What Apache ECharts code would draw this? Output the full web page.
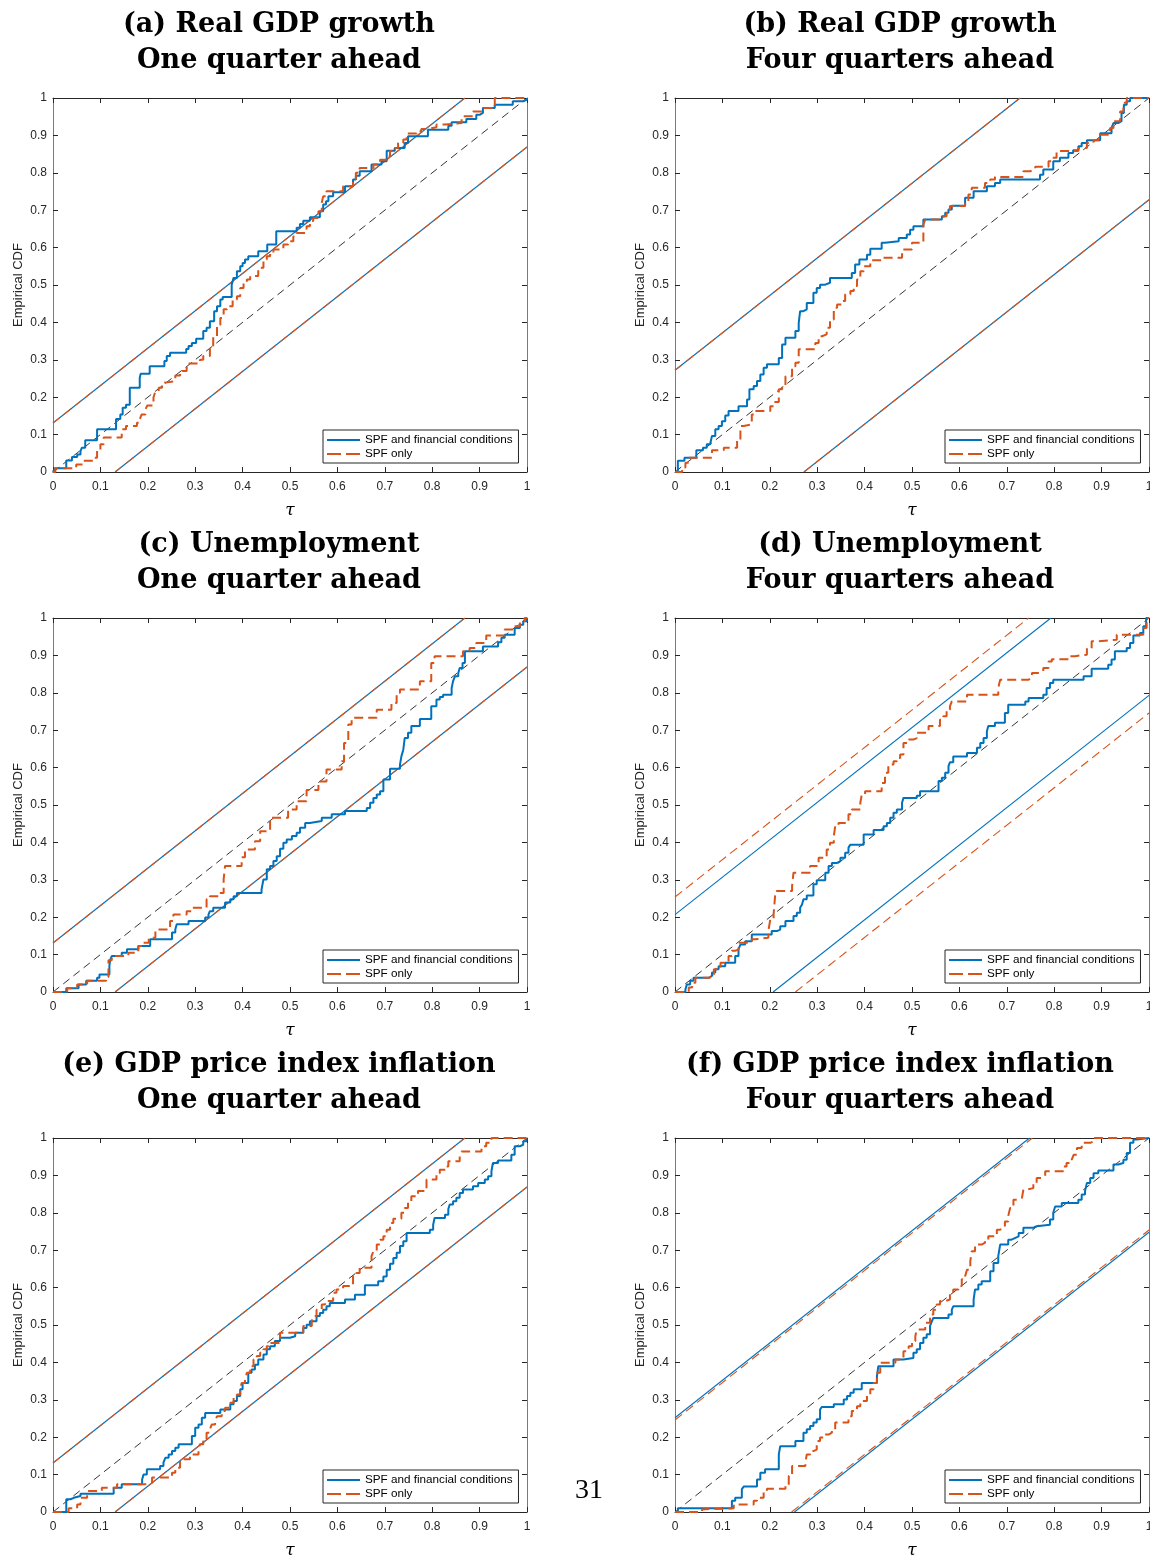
<!DOCTYPE html>
<html><head><meta charset="utf-8">
<script src="https://cdn.jsdelivr.net/npm/echarts@6/dist/echarts.min.js"></script>
<style>html,body{margin:0;padding:0;background:#fff}#chart{width:1150px;height:1556px}</style>
</head><body><div id="chart"></div>
<script>
// ---------------- data ----------------
const panelTitles = [
  ['(a) Real GDP growth', 'One quarter ahead'],
  ['(b) Real GDP growth', 'Four quarters ahead'],
  ['(c) Unemployment', 'One quarter ahead'],
  ['(d) Unemployment', 'Four quarters ahead'],
  ['(e) GDP price index inflation', 'One quarter ahead'],
  ['(f) GDP price index inflation', 'Four quarters ahead']
];
const seriesNames = ['SPF and financial conditions', 'SPF only'];
const yAxisName = 'Empirical CDF';
const xAxisName = 'τ';
const pageNumber = '31';
// critical values of the bands (y = x ± c)
const critBlue = [0.131, 0.272, 0.131, 0.207, 0.131, 0.252];
const critOrange = [0.131, 0.272, 0.131, 0.254, 0.131, 0.246];
const diagonal = [[0, 0], [1, 1]];

const gdpQ1Blue = [[0,0],[0.004,0.01],[0.028,0.031],[0.040,0.04],[0.051,0.047],[0.058,0.056],[0.061,0.065],[0.068,0.085],[0.093,0.114],[0.133,0.142],[0.142,0.154],[0.147,0.172],[0.154,0.18],[0.162,0.225],[0.183,0.252],[0.185,0.263],[0.204,0.283],[0.235,0.297],[0.240,0.31],[0.247,0.319],[0.281,0.329],[0.286,0.337],[0.293,0.345],[0.302,0.356],[0.317,0.377],[0.324,0.386],[0.331,0.403],[0.340,0.43],[0.346,0.443],[0.353,0.461],[0.358,0.468],[0.377,0.501],[0.381,0.519],[0.388,0.537],[0.395,0.55],[0.400,0.559],[0.405,0.568],[0.412,0.577],[0.433,0.59],[0.452,0.608],[0.471,0.644],[0.514,0.653],[0.521,0.663],[0.528,0.672],[0.542,0.681],[0.563,0.697],[0.570,0.715],[0.576,0.724],[0.581,0.737],[0.591,0.748],[0.616,0.764],[0.633,0.782],[0.639,0.792],[0.647,0.804],[0.672,0.822],[0.693,0.831],[0.704,0.859],[0.721,0.866],[0.742,0.88],[0.749,0.898],[0.791,0.915],[0.834,0.926],[0.841,0.935],[0.872,0.944],[0.893,0.955],[0.900,0.96],[0.907,0.973],[0.932,0.982],[0.970,0.991],[0.992,0.996],[1,1]];
const gdpQ1Orange = [[0,0],[0.005,0.01],[0.049,0.02],[0.063,0.03],[0.086,0.038],[0.093,0.056],[0.100,0.074],[0.107,0.092],[0.145,0.114],[0.154,0.123],[0.177,0.132],[0.183,0.141],[0.187,0.154],[0.195,0.167],[0.199,0.178],[0.212,0.199],[0.216,0.216],[0.223,0.225],[0.230,0.239],[0.237,0.243],[0.258,0.258],[0.268,0.27],[0.282,0.29],[0.310,0.30],[0.317,0.31],[0.331,0.33],[0.338,0.363],[0.346,0.394],[0.353,0.412],[0.360,0.435],[0.367,0.443],[0.379,0.461],[0.388,0.47],[0.395,0.492],[0.402,0.506],[0.409,0.515],[0.416,0.524],[0.433,0.546],[0.444,0.568],[0.451,0.577],[0.458,0.586],[0.465,0.595],[0.486,0.608],[0.496,0.617],[0.507,0.63],[0.514,0.639],[0.535,0.657],[0.542,0.671],[0.549,0.679],[0.560,0.697],[0.567,0.72],[0.570,0.737],[0.577,0.751],[0.612,0.764],[0.633,0.782],[0.639,0.8],[0.647,0.813],[0.676,0.822],[0.690,0.835],[0.704,0.844],[0.711,0.858],[0.718,0.866],[0.728,0.88],[0.739,0.889],[0.746,0.905],[0.767,0.911],[0.777,0.917],[0.791,0.922],[0.809,0.929],[0.827,0.933],[0.862,0.951],[0.886,0.964],[0.907,0.973],[0.932,1],[1,1]];
const gdpQ4Blue = [[0,0],[0.006,0.03],[0.020,0.038],[0.045,0.058],[0.059,0.065],[0.067,0.074],[0.074,0.078],[0.078,0.096],[0.085,0.114],[0.092,0.123],[0.099,0.136],[0.106,0.151],[0.113,0.163],[0.134,0.176],[0.152,0.194],[0.157,0.221],[0.166,0.23],[0.173,0.243],[0.180,0.261],[0.187,0.279],[0.194,0.288],[0.219,0.305],[0.226,0.341],[0.233,0.359],[0.254,0.377],[0.261,0.399],[0.264,0.43],[0.271,0.435],[0.278,0.452],[0.292,0.479],[0.299,0.492],[0.306,0.501],[0.317,0.506],[0.327,0.519],[0.373,0.532],[0.380,0.555],[0.389,0.568],[0.405,0.581],[0.412,0.597],[0.436,0.613],[0.443,0.617],[0.472,0.626],[0.489,0.635],[0.496,0.648],[0.503,0.657],[0.524,0.675],[0.563,0.684],[0.570,0.693],[0.577,0.702],[0.584,0.712],[0.612,0.733],[0.630,0.751],[0.658,0.764],[0.675,0.773],[0.686,0.782],[0.770,0.795],[0.777,0.809],[0.798,0.831],[0.812,0.84],[0.830,0.853],[0.840,0.86],[0.851,0.871],[0.858,0.88],[0.869,0.887],[0.897,0.906],[0.921,0.92],[0.925,0.933],[0.935,0.938],[0.942,0.96],[0.947,0.982],[0.953,0.991],[0.960,1],[1,1]];
const gdpQ4Orange = [[0,0],[0.015,0.012],[0.022,0.025],[0.029,0.038],[0.078,0.058],[0.103,0.065],[0.131,0.087],[0.138,0.123],[0.145,0.127],[0.162,0.154],[0.169,0.163],[0.201,0.176],[0.208,0.187],[0.219,0.221],[0.226,0.23],[0.233,0.256],[0.247,0.283],[0.254,0.292],[0.261,0.328],[0.296,0.345],[0.303,0.363],[0.310,0.368],[0.320,0.386],[0.327,0.408],[0.335,0.439],[0.342,0.448],[0.352,0.457],[0.359,0.475],[0.370,0.484],[0.377,0.497],[0.384,0.515],[0.391,0.537],[0.398,0.55],[0.412,0.566],[0.440,0.573],[0.479,0.595],[0.500,0.613],[0.524,0.662],[0.528,0.675],[0.566,0.684],[0.573,0.697],[0.580,0.711],[0.612,0.721],[0.619,0.742],[0.626,0.76],[0.654,0.773],[0.665,0.782],[0.675,0.789],[0.735,0.804],[0.749,0.809],[0.760,0.816],[0.788,0.831],[0.795,0.84],[0.805,0.858],[0.851,0.866],[0.869,0.88],[0.883,0.887],[0.893,0.902],[0.918,0.92],[0.925,0.938],[0.939,0.964],[0.946,0.987],[0.953,1],[1,1]];
const unempQ1Blue = [[0,0],[0.028,0.01],[0.054,0.02],[0.070,0.03],[0.093,0.038],[0.098,0.047],[0.119,0.071],[0.121,0.087],[0.124,0.096],[0.145,0.105],[0.156,0.114],[0.180,0.123],[0.205,0.141],[0.251,0.159],[0.258,0.167],[0.261,0.181],[0.286,0.19],[0.321,0.199],[0.328,0.207],[0.331,0.216],[0.338,0.225],[0.363,0.239],[0.374,0.248],[0.381,0.256],[0.388,0.265],[0.440,0.274],[0.444,0.301],[0.451,0.328],[0.458,0.337],[0.465,0.35],[0.472,0.363],[0.479,0.383],[0.486,0.399],[0.493,0.408],[0.504,0.417],[0.514,0.426],[0.521,0.439],[0.532,0.452],[0.542,0.457],[0.567,0.466],[0.588,0.475],[0.616,0.484],[0.662,0.492],[0.669,0.506],[0.676,0.519],[0.683,0.528],[0.690,0.537],[0.697,0.568],[0.711,0.597],[0.732,0.608],[0.735,0.63],[0.739,0.648],[0.742,0.679],[0.749,0.693],[0.756,0.711],[0.774,0.73],[0.798,0.764],[0.809,0.782],[0.816,0.789],[0.823,0.795],[0.841,0.813],[0.844,0.831],[0.848,0.844],[0.855,0.853],[0.858,0.866],[0.864,0.88],[0.869,0.911],[0.907,0.924],[0.939,0.935],[0.946,0.947],[0.953,0.955],[0.974,0.973],[0.985,0.982],[0.992,0.991],[1,1]];
const unempQ1Orange = [[0,0],[0.030,0.01],[0.051,0.02],[0.072,0.03],[0.112,0.04],[0.117,0.085],[0.124,0.096],[0.159,0.105],[0.180,0.123],[0.188,0.132],[0.202,0.145],[0.216,0.167],[0.247,0.19],[0.254,0.207],[0.282,0.216],[0.293,0.225],[0.324,0.248],[0.331,0.256],[0.349,0.265],[0.360,0.301],[0.363,0.337],[0.398,0.36],[0.405,0.381],[0.426,0.403],[0.437,0.43],[0.458,0.466],[0.496,0.488],[0.514,0.51],[0.535,0.54],[0.560,0.563],[0.577,0.595],[0.609,0.617],[0.614,0.666],[0.623,0.715],[0.630,0.733],[0.683,0.755],[0.714,0.773],[0.725,0.80],[0.732,0.809],[0.774,0.831],[0.798,0.88],[0.805,0.898],[0.865,0.911],[0.879,0.92],[0.893,0.933],[0.914,0.953],[0.953,0.969],[0.971,0.978],[0.985,0.991],[0.995,1],[1,1]];
const unempQ4Blue = [[0,0],[0.022,0.007],[0.025,0.02],[0.032,0.03],[0.039,0.038],[0.071,0.043],[0.078,0.052],[0.085,0.061],[0.092,0.069],[0.106,0.078],[0.127,0.096],[0.134,0.114],[0.138,0.127],[0.148,0.136],[0.162,0.154],[0.204,0.163],[0.215,0.167],[0.222,0.176],[0.233,0.19],[0.250,0.203],[0.257,0.212],[0.264,0.225],[0.268,0.234],[0.271,0.248],[0.278,0.258],[0.292,0.288],[0.299,0.299],[0.317,0.319],[0.324,0.337],[0.331,0.345],[0.342,0.35],[0.349,0.359],[0.359,0.372],[0.366,0.386],[0.370,0.394],[0.398,0.421],[0.419,0.433],[0.440,0.443],[0.447,0.452],[0.454,0.466],[0.461,0.479],[0.468,0.488],[0.479,0.506],[0.482,0.519],[0.510,0.525],[0.517,0.537],[0.556,0.564],[0.563,0.573],[0.570,0.586],[0.577,0.604],[0.580,0.614],[0.587,0.63],[0.616,0.639],[0.637,0.653],[0.644,0.666],[0.651,0.679],[0.658,0.697],[0.661,0.711],[0.675,0.72],[0.696,0.746],[0.703,0.768],[0.739,0.777],[0.746,0.786],[0.777,0.795],[0.784,0.813],[0.791,0.826],[0.798,0.835],[0.862,0.844],[0.879,0.864],[0.914,0.875],[0.921,0.889],[0.928,0.911],[0.953,0.92],[0.960,0.933],[0.967,0.953],[0.981,0.96],[0.988,0.978],[0.994,1],[1,1]];
const unempQ4Orange = [[0,0],[0.029,0.012],[0.036,0.025],[0.043,0.038],[0.074,0.047],[0.082,0.061],[0.096,0.078],[0.113,0.096],[0.120,0.11],[0.127,0.114],[0.134,0.132],[0.162,0.141],[0.169,0.145],[0.197,0.163],[0.201,0.194],[0.208,0.207],[0.212,0.27],[0.247,0.283],[0.250,0.319],[0.285,0.337],[0.303,0.359],[0.320,0.381],[0.327,0.399],[0.335,0.417],[0.338,0.443],[0.345,0.452],[0.366,0.475],[0.373,0.488],[0.391,0.506],[0.394,0.528],[0.401,0.537],[0.436,0.559],[0.443,0.586],[0.450,0.608],[0.461,0.617],[0.468,0.626],[0.475,0.635],[0.482,0.666],[0.493,0.675],[0.503,0.679],[0.510,0.693],[0.535,0.711],[0.559,0.728],[0.566,0.737],[0.573,0.755],[0.580,0.764],[0.584,0.777],[0.616,0.795],[0.682,0.813],[0.686,0.835],[0.746,0.84],[0.753,0.853],[0.770,0.858],[0.777,0.866],[0.788,0.884],[0.795,0.89],[0.833,0.898],[0.844,0.902],[0.869,0.92],[0.879,0.938],[0.893,0.942],[0.932,0.955],[0.988,0.973],[0.995,1],[1,1]];
const inflQ1Blue = [[0,0],[0.028,0.034],[0.037,0.038],[0.044,0.043],[0.058,0.049],[0.128,0.065],[0.145,0.074],[0.188,0.087],[0.191,0.1],[0.198,0.114],[0.226,0.123],[0.233,0.132],[0.237,0.145],[0.244,0.154],[0.251,0.163],[0.258,0.172],[0.265,0.181],[0.293,0.203],[0.300,0.225],[0.307,0.234],[0.314,0.252],[0.321,0.265],[0.353,0.274],[0.374,0.288],[0.381,0.297],[0.388,0.31],[0.395,0.328],[0.400,0.345],[0.412,0.372],[0.419,0.381],[0.426,0.394],[0.433,0.408],[0.444,0.421],[0.451,0.435],[0.458,0.443],[0.468,0.457],[0.479,0.466],[0.500,0.47],[0.511,0.479],[0.528,0.492],[0.535,0.501],[0.542,0.51],[0.556,0.524],[0.563,0.532],[0.570,0.541],[0.577,0.55],[0.584,0.559],[0.616,0.568],[0.637,0.581],[0.658,0.606],[0.686,0.617],[0.697,0.63],[0.704,0.648],[0.711,0.664],[0.718,0.679],[0.725,0.693],[0.732,0.711],[0.739,0.724],[0.746,0.746],[0.795,0.755],[0.802,0.768],[0.805,0.786],[0.827,0.795],[0.834,0.81],[0.837,0.822],[0.844,0.831],[0.851,0.84],[0.858,0.853],[0.865,0.862],[0.886,0.871],[0.897,0.88],[0.911,0.889],[0.918,0.898],[0.925,0.911],[0.928,0.933],[0.939,0.94],[0.967,0.955],[0.974,0.978],[0.985,0.982],[0.992,0.991],[0.999,1],[1,1]];
const inflQ1Orange = [[0,0],[0.033,0.01],[0.051,0.02],[0.058,0.038],[0.072,0.056],[0.103,0.065],[0.135,0.074],[0.198,0.078],[0.209,0.092],[0.251,0.105],[0.258,0.118],[0.268,0.141],[0.289,0.154],[0.307,0.167],[0.310,0.181],[0.317,0.19],[0.324,0.212],[0.331,0.221],[0.335,0.234],[0.342,0.243],[0.346,0.256],[0.356,0.27],[0.363,0.279],[0.374,0.292],[0.381,0.305],[0.388,0.314],[0.395,0.328],[0.398,0.345],[0.405,0.354],[0.409,0.372],[0.416,0.39],[0.423,0.408],[0.430,0.417],[0.437,0.426],[0.444,0.435],[0.451,0.443],[0.458,0.452],[0.479,0.479],[0.528,0.497],[0.546,0.51],[0.549,0.524],[0.556,0.541],[0.567,0.555],[0.574,0.564],[0.591,0.586],[0.598,0.595],[0.612,0.604],[0.633,0.63],[0.640,0.639],[0.647,0.653],[0.672,0.684],[0.676,0.697],[0.683,0.715],[0.690,0.728],[0.697,0.737],[0.704,0.755],[0.711,0.773],[0.718,0.784],[0.735,0.8],[0.742,0.813],[0.749,0.831],[0.756,0.844],[0.770,0.858],[0.788,0.889],[0.809,0.906],[0.816,0.915],[0.827,0.924],[0.834,0.938],[0.858,0.955],[0.862,0.964],[0.904,0.978],[0.914,0.987],[0.925,1],[1,1]];
const inflQ4Blue = [[0,0],[0.006,0.01],[0.120,0.03],[0.127,0.038],[0.141,0.061],[0.145,0.068],[0.173,0.087],[0.180,0.105],[0.190,0.114],[0.219,0.154],[0.222,0.176],[0.254,0.19],[0.271,0.212],[0.278,0.221],[0.285,0.23],[0.292,0.239],[0.299,0.248],[0.306,0.274],[0.310,0.281],[0.335,0.288],[0.356,0.301],[0.363,0.31],[0.370,0.319],[0.377,0.328],[0.394,0.345],[0.426,0.363],[0.429,0.39],[0.461,0.408],[0.482,0.412],[0.503,0.426],[0.510,0.435],[0.517,0.452],[0.524,0.466],[0.531,0.475],[0.538,0.497],[0.542,0.51],[0.545,0.519],[0.577,0.528],[0.584,0.541],[0.587,0.55],[0.630,0.568],[0.633,0.595],[0.640,0.608],[0.647,0.617],[0.665,0.644],[0.672,0.666],[0.682,0.684],[0.686,0.715],[0.703,0.728],[0.710,0.733],[0.718,0.737],[0.725,0.746],[0.735,0.76],[0.756,0.764],[0.763,0.768],[0.791,0.782],[0.798,0.8],[0.802,0.817],[0.816,0.826],[0.851,0.835],[0.858,0.849],[0.865,0.858],[0.869,0.88],[0.876,0.893],[0.883,0.906],[0.893,0.913],[0.925,0.929],[0.935,0.933],[0.946,0.942],[0.953,0.96],[0.960,0.987],[0.967,0.996],[0.974,1],[1,1]];
const inflQ4Orange = [[0,0],[0.057,0.007],[0.060,0.01],[0.124,0.02],[0.166,0.03],[0.173,0.038],[0.187,0.056],[0.194,0.062],[0.233,0.069],[0.240,0.096],[0.247,0.123],[0.275,0.132],[0.278,0.154],[0.285,0.163],[0.292,0.167],[0.299,0.19],[0.306,0.199],[0.313,0.207],[0.324,0.212],[0.331,0.221],[0.338,0.239],[0.366,0.256],[0.373,0.27],[0.384,0.283],[0.391,0.297],[0.405,0.314],[0.412,0.328],[0.419,0.345],[0.426,0.372],[0.433,0.399],[0.465,0.408],[0.482,0.43],[0.493,0.443],[0.500,0.457],[0.507,0.47],[0.510,0.488],[0.528,0.506],[0.538,0.528],[0.545,0.541],[0.552,0.555],[0.559,0.564],[0.570,0.568],[0.580,0.581],[0.587,0.595],[0.598,0.604],[0.605,0.622],[0.612,0.63],[0.616,0.648],[0.623,0.671],[0.626,0.697],[0.633,0.715],[0.647,0.72],[0.654,0.728],[0.661,0.737],[0.679,0.755],[0.686,0.76],[0.696,0.777],[0.703,0.791],[0.707,0.813],[0.714,0.835],[0.725,0.84],[0.732,0.844],[0.735,0.862],[0.742,0.866],[0.756,0.88],[0.763,0.893],[0.774,0.898],[0.781,0.911],[0.819,0.924],[0.826,0.933],[0.837,0.942],[0.841,0.955],[0.848,0.973],[0.858,0.987],[0.876,0.991],[0.883,1],[1,1]];

const blueSeries = [gdpQ1Blue, gdpQ4Blue, unempQ1Blue, unempQ4Blue, inflQ1Blue, inflQ4Blue];
const orangeSeries = [gdpQ1Orange, gdpQ4Orange, unempQ1Orange, unempQ4Orange, inflQ1Orange, inflQ4Orange];

// ---------------- layout / style ----------------
const BLUE = '#0072BD', ORANGE = '#D95319', AX = '#262626', AXV = '#7a7a7a';
const gridLeft = [53, 675], gridTop = [98, 618, 1138], gridW = 474, gridH = 374;
const titleCx = [279, 900], titleTop = [7, 527, 1047];
const legendLeft = [323, 945], legendTop = [430, 950, 1470];

const chart = echarts.init(document.getElementById('chart'), null, {renderer: 'canvas'});
const grids = [], xAxes = [], yAxes = [], series = [], titles = [], legends = [];

function upperBand(c) { return [[0, c], [1 - c, 1]]; }
function lowerBand(c) { return [[c, 0], [1, 1 - c]]; }
const tickFmt = v => String(Math.round(v * 10) / 10);

for (let i = 0; i < 6; i++) {
  const col = i % 2, row = Math.floor(i / 2);
  grids.push({left: gridLeft[col], top: gridTop[row], width: gridW, height: gridH,
    containLabel: false, outerBoundsMode: 'none', show: false});
  const baseX = {gridIndex: i, type: 'value', min: 0, max: 1, interval: 0.1,
    splitLine: {show: false},
    axisTick: {show: true, inside: true, length: 5, lineStyle: {color: AX, width: 1}},
    axisLine: {show: true, onZero: false, lineStyle: {color: AX, width: 1}}};
  xAxes.push(Object.assign({}, baseX, {position: 'bottom',
    axisLabel: {show: true, margin: 9, color: AX, fontSize: 12, fontFamily: 'Liberation Sans',
      formatter: tickFmt, showMinLabel: true, showMaxLabel: true, hideOverlap: false},
    name: xAxisName, nameLocation: 'middle', nameGap: 30,
    nameTextStyle: {fontFamily: 'DejaVu Serif', fontStyle: 'italic', fontSize: 17, color: '#000'}}));
  xAxes.push(Object.assign({}, baseX, {position: 'top', axisLabel: {show: false}}));
  const baseY = {gridIndex: i, type: 'value', min: 0, max: 1, interval: 0.1,
    splitLine: {show: false},
    axisTick: {show: true, inside: true, length: 5, lineStyle: {color: AX, width: 1}},
    axisLine: {show: true, onZero: false, lineStyle: {color: AXV, width: 1}}};
  yAxes.push(Object.assign({}, baseY, {position: 'left',
    axisLabel: {show: true, margin: 6, color: AX, fontSize: 12, fontFamily: 'Liberation Sans',
      formatter: tickFmt, showMinLabel: true, showMaxLabel: true, hideOverlap: false},
    name: yAxisName, nameLocation: 'middle', nameGap: 28, nameRotate: 90,
    nameTextStyle: {fontFamily: 'Liberation Sans', fontSize: 13, color: AX}}));
  yAxes.push(Object.assign({}, baseY, {position: 'right', axisLabel: {show: false}}));

  const xi = 2 * i, yi = 2 * i;
  const common = {type: 'line', xAxisIndex: xi, yAxisIndex: yi, symbol: 'none', showSymbol: false,
    silent: true, animation: false, clip: true};
  series.push(Object.assign({}, common, {name: 'diag', data: diagonal, z: 2,
    lineStyle: {color: '#000', width: 0.8, type: [8, 5]}}));
  series.push(Object.assign({}, common, {name: 'bandB', data: upperBand(critBlue[i]), z: 3,
    lineStyle: {color: BLUE, width: 1.1}}));
  series.push(Object.assign({}, common, {name: 'bandB', data: lowerBand(critBlue[i]), z: 3,
    lineStyle: {color: BLUE, width: 1.1}}));
  series.push(Object.assign({}, common, {name: 'bandO', data: upperBand(critOrange[i]), z: 4,
    lineStyle: {color: ORANGE, width: 1.1, type: [9, 5]}}));
  series.push(Object.assign({}, common, {name: 'bandO', data: lowerBand(critOrange[i]), z: 4,
    lineStyle: {color: ORANGE, width: 1.1, type: [9, 5]}}));
  series.push(Object.assign({}, common, {name: seriesNames[0], data: blueSeries[i], step: 'end', z: 5,
    color: BLUE, itemStyle: {color: BLUE}, lineStyle: {color: BLUE, width: 2}}));
  series.push(Object.assign({}, common, {name: seriesNames[1], data: orangeSeries[i], step: 'end', z: 6,
    color: ORANGE, itemStyle: {color: ORANGE}, lineStyle: {color: ORANGE, width: 2, type: [9, 5]}}));

  titles.push({text: panelTitles[i][0] + '\n' + panelTitles[i][1], left: titleCx[col], top: titleTop[row],
    textAlign: 'center', padding: 0,
    textStyle: {fontFamily: 'DejaVu Serif', fontWeight: 'bold', fontSize: 27, lineHeight: 36, color: '#000'}});

  legends.push({show: true, orient: 'vertical', left: legendLeft[col], top: legendTop[row],
    padding: [4, 6, 3, 4], itemGap: 2, itemWidth: 33, itemHeight: 2,
    backgroundColor: '#fff', borderColor: AX, borderWidth: 1, borderRadius: 0,
    selectedMode: false, inactiveColor: '#999',
    itemStyle: {borderWidth: 0},
    textStyle: {fontFamily: 'Liberation Sans', fontSize: 11.7, lineHeight: 12, color: '#000', padding: 0},
    data: [{name: seriesNames[0], icon: 'path://M0,0H33V2H0Z'},
           {name: seriesNames[1], icon: 'path://M0,0H14V2H0ZM19,0H33V2H19Z'}]});
}

chart.setOption({
  animation: false,
  backgroundColor: '#fff',
  title: titles,
  legend: legends,
  grid: grids,
  xAxis: xAxes,
  yAxis: yAxes,
  series: series,
  graphic: [{type: 'text', left: 575, top: 1477,
    style: {text: pageNumber, font: '28px "Liberation Serif"', fill: '#000'}}]
});
</script></body></html>
